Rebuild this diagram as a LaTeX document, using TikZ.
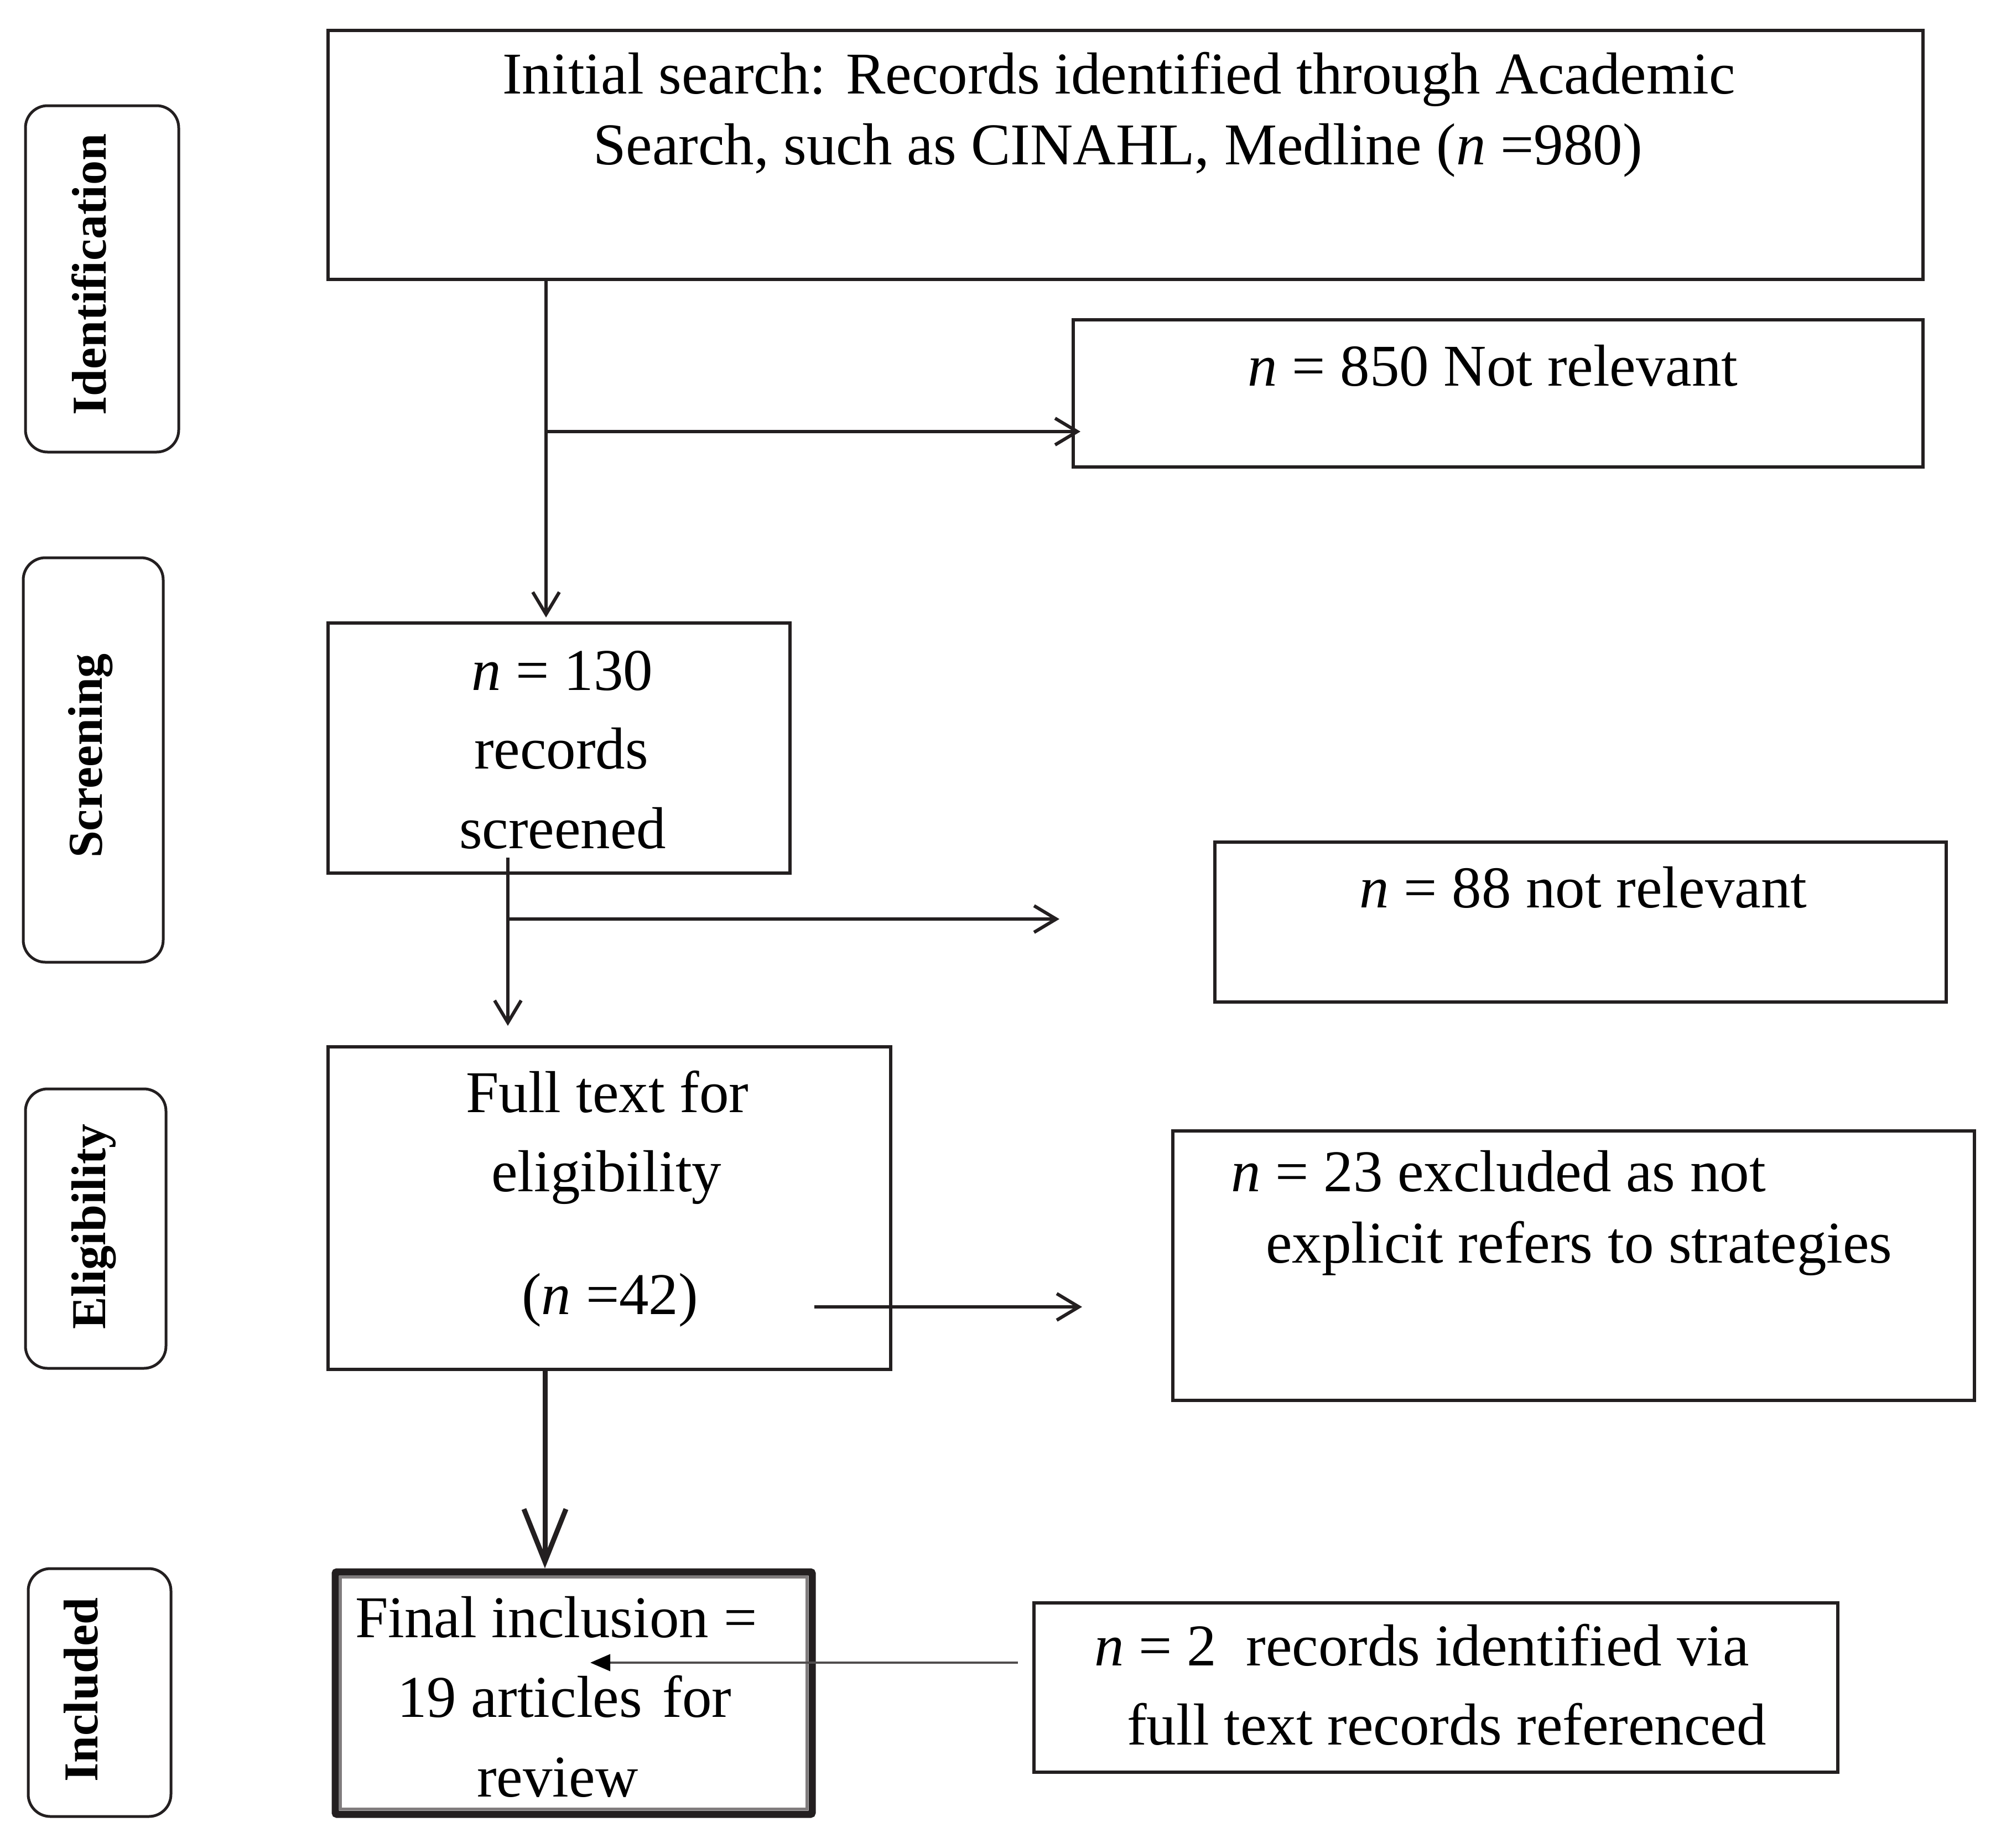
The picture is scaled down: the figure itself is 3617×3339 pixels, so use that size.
\documentclass[tikz,border=0pt]{standalone}
\usepackage{fontspec}
\setmainfont{Liberation Serif}
\usetikzlibrary{arrows.meta,fit,calc}
\definecolor{dk}{RGB}{35,31,32}
\definecolor{gr}{RGB}{128,124,125}
\definecolor{lg}{RGB}{80,77,78}
\begin{document}
\begin{tikzpicture}[x=1pt,y=-1pt,
  box/.style={draw=dk,line width=6pt,inner sep=0pt},
  finbox/.style={draw=dk,line width=13pt,inner sep=0pt,rounded corners=3pt},
  side/.style={draw=dk,line width=5pt,rounded corners=40pt,inner sep=0pt},
  txt/.style={inner sep=0pt,anchor=base west,font=\fontsize{107}{128}\selectfont,text=black},
  lab/.style={inner sep=0pt,anchor=base,rotate=90,font=\fontsize{88}{100}\selectfont\bfseries,text=black},
  arr/.style={draw=dk,line width=6pt,-{Straight Barb[length=40pt,width=48pt,line width=6pt]}},
  thickarr/.style={draw=dk,line width=9pt,-{Straight Barb[length=95pt,width=76pt,line width=9pt]}},
  thinarr/.style={draw=lg,line width=4pt,-{Triangle[length=36pt,width=30pt,color=black]}}]
\useasboundingbox (0,0) rectangle (3617,3339);
% side labels
\node[side, fit={(46,191) (323,817)}] (sid) {};
\node[side, fit={(42,1008) (295,1739)}] (ssc) {};
\node[side, fit={(46,1968) (300,2473)}] (sel) {};
\node[side, fit={(51,2835) (309,3283)}] (sin) {};
\node[lab] (lid) at (191,496) {Identification};
\node[lab] (lsc) at (184,1366) {Screening};
\node[lab] (lel) at (190,2217) {Eligibility};
\node[lab] (lin) at (176,3054) {Included};
% boxes
\node[box, fit={(593,55) (3476,505)}] (top) {};
\node[box, fit={(1940,578) (3476,844)}] (nr850) {};
\node[box, fit={(593,1126) (1428,1578)}] (s130) {};
\node[box, fit={(2196,1522) (3518,1811)}] (nr88) {};
\node[box, fit={(593,1892) (1610,2475)}] (ft) {};
\node[box, fit={(2120,2044) (3569,2531)}] (ex23) {};
\node[box, fit={(1869,2897) (3322,3203)}] (n2) {};
\node[finbox, fit={(606,2841) (1468,3279)}] (fin) {};
\draw[gr, line width=5pt] ($(fin.north west)+(16,16)$) rectangle ($(fin.south east)+(-16,-16)$);
% texts
\node[txt] (t1a) at (908,169) {Initial search: Records identified through Academic};
\node[txt] (t1b) at (1072,297) {Search, such as CINAHL, Medline (\textit{n} =980)};
\node[txt] (t2) at (2255,697) {\textit{n} = 850 Not relevant};
\node[txt] (t3a) at (852,1247) {\textit{n} = 130};
\node[txt] (t3b) at (857,1389) {records};
\node[txt] (t3c) at (830,1533) {screened};
\node[txt] (t4) at (2457,1640) {\textit{n} = 88 not relevant};
\node[txt] (t5a) at (842,2010) {Full text for};
\node[txt] (t5b) at (888,2153) {eligibility};
\node[txt] (t5c) at (943,2375) {(\textit{n} =42)};
\node[txt] (t6a) at (2225,2153) {\textit{n} = 23 excluded as not};
\node[txt] (t6b) at (2288,2282) {explicit refers to strategies};
\node[txt] (t7a) at (642,2959) {Final inclusion =};
\node[txt] (t7b) at (718,3103) {19 articles\hspace{10pt} for};
\node[txt] (t7c) at (862,3247) {review};
\node[txt] (t8a) at (1978,3010) {\textit{n} = 2~ records identified via};
\node[txt] (t8b) at (2037,3153) {full text records referenced};
% connectors
\coordinate (j1) at (987,780);
\draw[arr] (top.south -| j1) -- ($(s130.north -| j1)+(0,-7)$);
\draw[arr] (j1) -- ($(j1 -| nr850.west)+(16,0)$);
\coordinate (j2s) at (918,1550);
\coordinate (j2) at (918,1661);
\coordinate (e88) at (1915,1661);
\draw[arr] (j2s) -- ($(ft.north -| j2s)+(0,-35)$);
\draw[arr] (j2) -- (e88);
\coordinate (s42) at (1472,2362);
\coordinate (e23) at (1956,2362);
\draw[arr] (s42) -- (e23);
\coordinate (j4) at (985,0);
\draw[thickarr] (ft.south -| j4) -- (fin.north -| j4);
\coordinate (e2) at (1067,3005);
\draw[thinarr] ($(n2.west |- e2)+(-26,0)$) -- (e2);
\end{tikzpicture}
\end{document}
